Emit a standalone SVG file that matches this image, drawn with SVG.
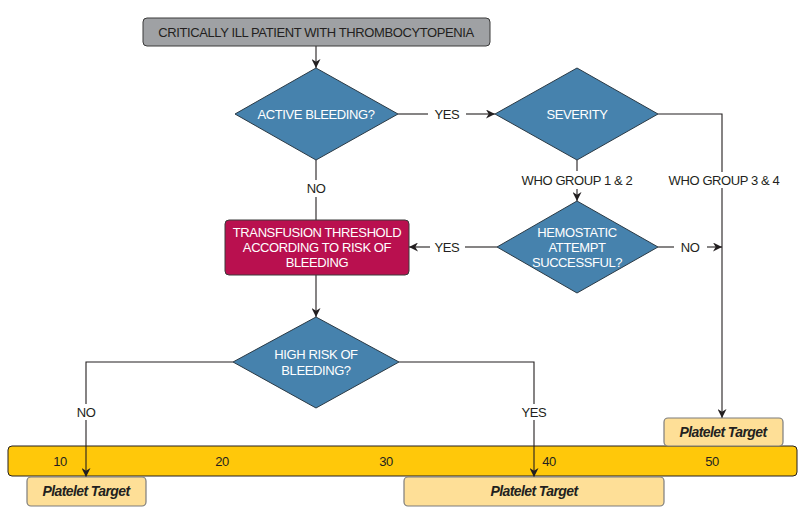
<svg xmlns="http://www.w3.org/2000/svg" width="805" height="517" viewBox="0 0 805 517">
<defs>
<style>
.t{font-family:"Liberation Sans",Arial,sans-serif;font-size:13px;text-anchor:middle;dominant-baseline:central;letter-spacing:-0.4px}
.w{fill:#ffffff}
.k{fill:#231f20}
.pt{font-family:"Liberation Sans",Arial,sans-serif;font-size:14px;font-weight:bold;font-style:italic;text-anchor:middle;dominant-baseline:central;fill:#231f20;letter-spacing:-0.6px}
.dia{fill:#4682ad;stroke:#2b3a45;stroke-width:1}
.ln{fill:none;stroke:#231f20;stroke-width:1.1}
.tgt{fill:#fedf97;stroke:#7d7d7d;stroke-width:1.2}
</style>
<marker id="ah" viewBox="0 0 10 10" refX="10" refY="5" markerWidth="9" markerHeight="9" markerUnits="userSpaceOnUse" orient="auto">
<path d="M0,0 L10,5 L0,10 L3,5 z" fill="#231f20"/>
</marker>
</defs>
<rect width="805" height="517" fill="#ffffff"/>

<g id="connectors">
<line class="ln" x1="316" y1="46" x2="316" y2="68" marker-end="url(#ah)"/>
<line class="ln" x1="398" y1="114" x2="428" y2="114"/>
<line class="ln" x1="466" y1="114" x2="495" y2="114" marker-end="url(#ah)"/>
<polyline class="ln" points="658,114 722,114 722,172"/>
<line class="ln" x1="722" y1="188" x2="722" y2="418" marker-end="url(#ah)"/>
<line class="ln" x1="577" y1="160" x2="577" y2="171"/>
<line class="ln" x1="577" y1="189" x2="577" y2="201" marker-end="url(#ah)"/>
<line class="ln" x1="316" y1="160" x2="316" y2="180"/>
<line class="ln" x1="316" y1="197" x2="316" y2="220"/>
<line class="ln" x1="497" y1="247" x2="465" y2="247"/>
<line class="ln" x1="430" y1="247" x2="409" y2="247" marker-end="url(#ah)"/>
<line class="ln" x1="658" y1="247" x2="674" y2="247"/>
<line class="ln" x1="707" y1="247" x2="722" y2="247" marker-end="url(#ah)"/>
<line class="ln" x1="316" y1="275" x2="316" y2="317" marker-end="url(#ah)"/>
<polyline class="ln" points="233,362 86,362 86,404"/>
<polyline class="ln" points="399,362 534,362 534,404"/>
</g>

<g id="scale">
<rect x="8" y="446" width="789" height="30" rx="4" fill="#ffc80a" stroke="#231f20" stroke-width="1"/>
<text class="t k" x="60" y="461">10</text>
<text class="t k" x="222" y="461">20</text>
<text class="t k" x="386" y="461">30</text>
<text class="t k" x="549" y="461">40</text>
<text class="t k" x="712" y="461">50</text>
</g>

<g id="connectors-lower">
<line class="ln" x1="86" y1="420" x2="86" y2="477" marker-end="url(#ah)"/>
<line class="ln" x1="534" y1="420" x2="534" y2="477" marker-end="url(#ah)"/>
</g>

<g id="start">
<rect x="143" y="18" width="347" height="28" rx="4" fill="#9fa1a4" stroke="#3a3a3a" stroke-width="1"/>
<text class="t k" x="316" y="32">CRITICALLY ILL PATIENT WITH THROMBOCYTOPENIA</text>
</g>

<g id="active-bleeding">
<polygon class="dia" points="316,68 398,114 316,160 235,114"/>
<text class="t w" x="316" y="114">ACTIVE BLEEDING?</text>
</g>

<g id="severity">
<polygon class="dia" points="577,68 658,114 577,160 495,114"/>
<text class="t w" x="577" y="114">SEVERITY</text>
</g>

<g id="hemostatic">
<polygon class="dia" points="577,201 658,247 577,293 497,247"/>
<text class="t w" x="577" y="232">HEMOSTATIC</text>
<text class="t w" x="577" y="247">ATTEMPT</text>
<text class="t w" x="577" y="262">SUCCESSFUL?</text>
</g>

<g id="threshold">
<rect x="225" y="220" width="184" height="55" rx="4" fill="#b9104f" stroke="#3a3a3a" stroke-width="1"/>
<text class="t w" x="317" y="232">TRANSFUSION THRESHOLD</text>
<text class="t w" x="317" y="247">ACCORDING TO RISK OF</text>
<text class="t w" x="317" y="262">BLEEDING</text>
</g>

<g id="high-risk">
<polygon class="dia" points="316,317 399,362 316,408 233,362"/>
<text class="t w" x="316" y="354">HIGH RISK OF</text>
<text class="t w" x="316" y="370">BLEEDING?</text>
</g>

<g id="labels">
<text class="t k" x="447" y="114">YES</text>
<text class="t k" x="316" y="188">NO</text>
<text class="t k" x="577" y="180">WHO GROUP 1 &amp; 2</text>
<text class="t k" x="724" y="180">WHO GROUP 3 &amp; 4</text>
<text class="t k" x="447" y="247">YES</text>
<text class="t k" x="690" y="247">NO</text>
<text class="t k" x="86" y="412">NO</text>
<text class="t k" x="534" y="412">YES</text>
</g>

<g id="target-low">
<rect class="tgt" x="27" y="477" width="119" height="29" rx="4"/>
<text class="pt" x="86" y="491">Platelet Target</text>
</g>

<g id="target-mid">
<rect class="tgt" x="404" y="477" width="260" height="29" rx="4"/>
<text class="pt" x="534" y="491">Platelet Target</text>
</g>

<g id="target-high">
<rect class="tgt" x="664" y="418" width="119" height="28" rx="4"/>
<text class="pt" x="723" y="432">Platelet Target</text>
</g>
</svg>
